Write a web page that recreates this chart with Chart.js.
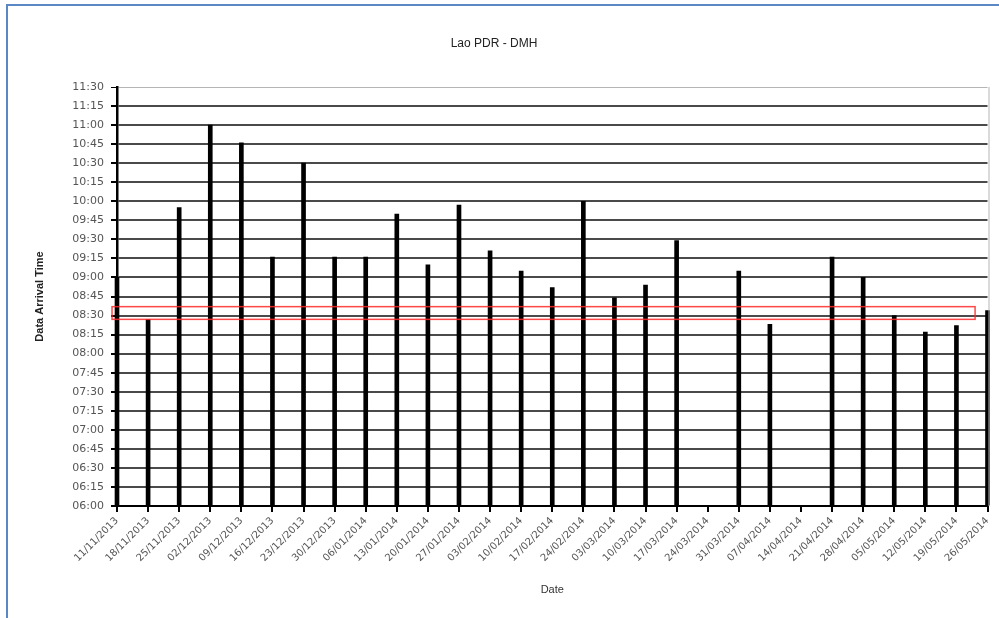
<!DOCTYPE html>
<html><head><meta charset="utf-8">
<script src="https://cdn.jsdelivr.net/npm/chart.js@4/dist/chart.umd.min.js"></script>
<style>
html,body{margin:0;padding:0;background:#fff;}
#wrap{position:relative;width:999px;height:618px;overflow:hidden;background:#fff;}
#frame{position:absolute;left:6px;top:4px;right:-10px;bottom:-10px;border-top:2px solid #5b87c5;border-left:2px solid #5b87c5;pointer-events:none;}
canvas{position:absolute;left:0;top:0;}
</style></head><body>
<div id="wrap"><canvas id="c" width="999" height="618"></canvas><div id="frame"></div></div>
<script>
const dates = ['11/11/2013','18/11/2013','25/11/2013','02/12/2013','09/12/2013','16/12/2013','23/12/2013','30/12/2013',
  '06/01/2014','13/01/2014','20/01/2014','27/01/2014','03/02/2014','10/02/2014','17/02/2014','24/02/2014',
  '03/03/2014','10/03/2014','17/03/2014','24/03/2014','31/03/2014','07/04/2014','14/04/2014','21/04/2014',
  '28/04/2014','05/05/2014','12/05/2014','19/05/2014','26/05/2014'];
const arrivalTimes = ['09:00','08:27','09:55','11:00','10:46','09:16','10:30','09:16',
  '09:16','09:50','09:10','09:57','09:21','09:05','08:52','10:00',
  '08:44','08:54','09:29',null,'09:05','08:23',null,'09:16',
  '09:00','08:30','08:17','08:22','08:34'];
const chartTitle = 'Lao PDR - DMH';
const yAxisTitle = 'Data Arrival Time';
const xAxisTitle = 'Date';
const yRange = ['06:00','11:30'];
const yStepMinutes = 15;
const targetBand = ['08:27','08:37'];
const targetBandIndexRange = [-0.16, 27.6];

function toMin(s){ if(s==null) return null; const p=s.split(':').map(Number); return p[0]*60+p[1]; }
function fmt(v){ const h=Math.floor(v/60), m=v%60; return String(h).padStart(2,'0')+':'+String(m).padStart(2,'0'); }

const bandPlugin = {
  id:'band',
  afterDatasetsDraw(chart){
    const {ctx, scales:{x,y}} = chart;
    const x0 = x.getPixelForValue(targetBandIndexRange[0]);
    const x1 = x.getPixelForValue(targetBandIndexRange[1]);
    const y0 = y.getPixelForValue(toMin(targetBand[1]));
    const y1 = y.getPixelForValue(toMin(targetBand[0]));
    ctx.save();
    ctx.strokeStyle='rgba(255,40,40,0.85)';
    ctx.lineWidth=1.5;
    ctx.strokeRect(x0,y0,x1-x0,y1-y0);
    ctx.restore();
  },
  afterDraw(chart){
    const {ctx, chartArea:a} = chart;
    ctx.save();
    ctx.strokeStyle='#b5b5b5'; ctx.lineWidth=1;
    ctx.beginPath(); ctx.moveTo(a.right+1.5,a.top); ctx.lineTo(a.right+1.5,a.bottom); ctx.stroke();
    ctx.restore();
  }
};

const yMin = toMin(yRange[0]);
const yMax = toMin(yRange[1]);
new Chart(document.getElementById('c'), {
  type:'bar',
  data:{labels:dates, datasets:[{data:arrivalTimes.map(toMin), base:yMin, backgroundColor:'#000', barThickness:4, borderWidth:0, clip:{left:8,right:8,top:0,bottom:0}}]},
  options:{
    responsive:false, animation:false,
    layout:{padding:{left:0,right:11,top:0,bottom:0}},
    plugins:{
      legend:{display:false}, tooltip:{enabled:false},
      title:{display:true,text:chartTitle,color:'#222',font:{family:'Liberation Sans',size:12,weight:'normal'},padding:{top:36,bottom:36.6}}
    },
    scales:{
      x:{
        offset:false,
        grid:{offset:false,drawOnChartArea:false,drawTicks:true,tickLength:6,color:'#000',lineWidth:2},
        border:{display:true,color:'#000',width:2},
        ticks:{autoSkip:false,minRotation:45,maxRotation:45,color:'#555',font:{family:'DejaVu Sans',size:10},padding:3},
        title:{display:true,text:xAxisTitle,color:'#333',font:{family:'Liberation Sans',size:11},padding:{top:0,bottom:21}},
        afterFit(s){ s.height=112; }
      },
      y:{
        min:yMin, max:yMax,
        ticks:{stepSize:yStepMinutes,callback:v=>fmt(v),color:'#555',font:{family:'DejaVu Sans',size:11},padding:7},
        grid:{
          color:c=>(c.tick && c.tick.value===yMax)?'#b5b5b5':'#4a4a4a',
          lineWidth:c=>(c.tick && c.tick.value===yMax)?1:2,
          tickLength:6, tickColor:'#000'
        },
        border:{display:true,color:'#000',width:2.5},
        title:{display:true,text:yAxisTitle,color:'#222',font:{family:'Liberation Sans',size:11,weight:'bold'},padding:{top:33,bottom:0}},
        afterFit(s){ s.width=117; }
      }
    }
  },
  plugins:[bandPlugin]
});
</script>
</body></html>
